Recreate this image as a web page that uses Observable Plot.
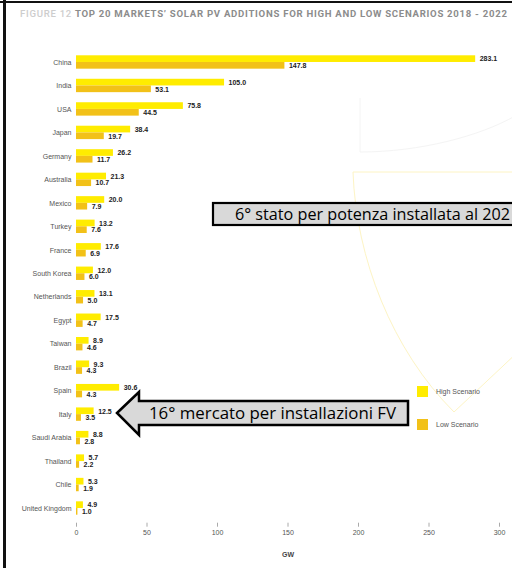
<!DOCTYPE html>
<html><head><meta charset="utf-8">
<script src="https://cdn.jsdelivr.net/npm/d3@7"></script>
<script src="https://cdn.jsdelivr.net/npm/@observablehq/plot@0.6"></script>
<style>
html,body{margin:0;padding:0;background:#fff;}
#wrap{position:relative;width:512px;height:568px;overflow:hidden;font-family:"Liberation Sans",Arial,sans-serif;}
#title{position:absolute;left:20px;top:8px;font-family:Roboto,sans-serif;font-size:9.6px;letter-spacing:0.72px;white-space:nowrap;font-weight:700;color:#8c8c8c;line-height:12px;}
#title .fig{color:#cdcdcd;font-weight:500;}
#chart{position:absolute;left:0;top:28px;}
.bl{position:absolute;left:3px;top:0;width:3px;height:568px;background:#111;}
.bt{position:absolute;left:0;top:1px;width:512px;height:2px;background:#111;}
</style></head>
<body><div id="wrap"><div id="title"><span class="fig">FIGURE 12</span> TOP 20 MARKETS’ SOLAR PV ADDITIONS FOR HIGH AND LOW SCENARIOS 2018 - 2022</div><div id="chart"></div><div class="bl"></div><div class="bt"></div></div>
<script>
const countries = ["China","India","USA","Japan","Germany","Australia","Mexico","Turkey","France","South Korea","Netherlands","Egypt","Taiwan","Brazil","Spain","Italy","Saudi Arabia","Thailand","Chile","United Kingdom"];
const high = [283.1,105.0,75.8,38.4,26.2,21.3,20.0,13.2,17.6,12.0,13.1,17.5,8.9,9.3,30.6,12.5,8.8,5.7,5.3,4.9];
const low = [147.8,53.1,44.5,19.7,11.7,10.7,7.9,7.6,6.9,6.0,5.0,4.7,4.6,4.3,4.3,3.5,2.8,2.2,1.9,1.0];
const scenarios = ["High Scenario","Low Scenario"];
const colors = ["#FFEC00","#F2C118"];
const xTicks = [0,50,100,150,200,250,300];
const note1 = "6° stato per potenza installata al 202";
const note2 = "16° mercato per installazioni FV";

const rows = countries.map((c,i)=>({country:c, high:high[i], low:low[i]}));
const half = 6.7;

function watermark() {
  const g = d3.create("svg:g");
  g.append("path").attr("d","M353,144 L515,144 M353,144 C356,230 392,322 454,384 L520,322")
    .attr("fill","none").attr("stroke","#fdf4c4").attr("stroke-width",1);
  g.append("path").attr("d","M360,70 L360,124 C420,124 480,108 515,88")
    .attr("fill","none").attr("stroke","#f4f4f4").attr("stroke-width",1);
  return g.node();
}

function decorations() {
  const g = d3.create("svg:g").attr("text-anchor","start");
  // legend
  scenarios.forEach((s,i)=>{
    const y = 358 + i*33;
    g.append("rect").attr("x",417).attr("y",y).attr("width",11).attr("height",11).attr("fill",colors[i]);
    g.append("text").attr("x",436).attr("y",y+5.5).attr("dy","0.35em").attr("font-size",7)
      .attr("text-anchor","start").attr("fill","#555").attr("font-family","Liberation Sans, Arial, sans-serif").text(s);
  });
  // box annotation
  g.append("rect").attr("x",213).attr("y",175).attr("width",310).attr("height",22)
    .attr("fill","#d9d9d9").attr("stroke","#000").attr("stroke-width",2.2);
  g.append("text").attr("x",235).attr("y",186).attr("dy","0.36em").attr("font-size",16)
    .attr("text-anchor","start").attr("font-family","Open Sans, sans-serif").attr("fill","#000")
    .attr("textLength",275).attr("lengthAdjust","spacingAndGlyphs").text(note1);
  // arrow annotation
  g.append("path").attr("d","M117,385 L139,364 L139,373 L408,373 L408,397 L139,397 L139,407 Z")
    .attr("fill","#d9d9d9").attr("stroke","#000").attr("stroke-width",2.5).attr("stroke-linejoin","miter");
  g.append("text").attr("x",149).attr("y",385).attr("dy","0.36em").attr("font-size",16)
    .attr("text-anchor","start").attr("font-family","Open Sans, sans-serif").attr("fill","#000")
    .attr("textLength",247).attr("lengthAdjust","spacingAndGlyphs").text(note2);
  return g.node();
}

const chart = Plot.plot({
  width: 512,
  height: 540,
  marginLeft: 76,
  marginRight: 13,
  marginTop: 17,
  marginBottom: 45.3,
  style: {fontFamily: "Liberation Sans, Arial, sans-serif", background: "transparent"},
  x: {domain: [0, 300], range: [76, 499]},
  y: {domain: countries, range: [17.2, 496.8], padding: 0.43, round: false},
  marks: [
    watermark,
    Plot.barX(rows, {x: "high", y: "country", fill: colors[0], insetBottom: half}),
    Plot.barX(rows, {x: "low", y: "country", fill: colors[1], insetTop: half}),
    Plot.text(rows, {x: "high", y: "country", dy: -half/2, dx: 4, text: d => d.high.toFixed(1), textAnchor: "start", fontSize: 7, fontWeight: "bold", fill: "#222"}),
    Plot.text(rows, {x: "low", y: "country", dy: half/2, dx: 4, text: d => d.low.toFixed(1), textAnchor: "start", fontSize: 7, fontWeight: "bold", fill: "#222"}),
    Plot.axisY({tickSize: 0, tickPadding: 5, fontSize: 7, fill: "#555", label: null}),
    Plot.axisX({ticks: xTicks, tickSize: 4, tickPadding: 3, fontSize: 7, stroke: "#aaa", fill: "#555", label: null}),
    Plot.text(["GW"], {frameAnchor: "bottom", dy: 33.3, fontSize: 7, fontWeight: "bold", fill: "#444"}),
    decorations
  ]
});
document.getElementById("chart").appendChild(chart);
</script>
</body></html>
